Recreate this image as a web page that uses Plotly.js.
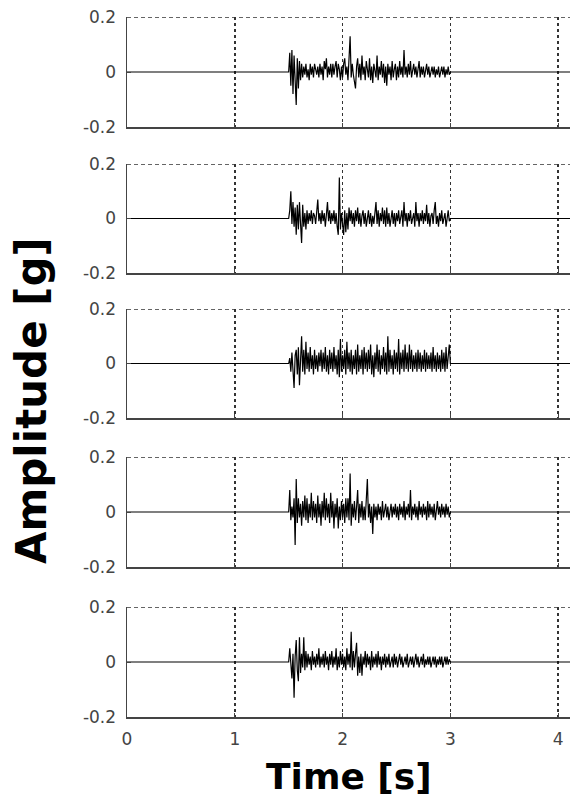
<!DOCTYPE html>
<html>
<head>
<meta charset="utf-8">
<script src="https://cdn.plot.ly/plotly-3.0.1.min.js"></script>
<style>html,body{margin:0;padding:0;background:#fff;}#chart{width:581px;height:804px;}</style>
</head>
<body>
<div id="chart"></div>
<script>
// Time axis [s]: zero before the event, samples every 0.01 s from 1.50 to 3.00, zero after
var time = [0,
1.50,1.51,1.52,1.53,1.54,1.55,1.56,1.57,1.58,1.59,
1.60,1.61,1.62,1.63,1.64,1.65,1.66,1.67,1.68,1.69,
1.70,1.71,1.72,1.73,1.74,1.75,1.76,1.77,1.78,1.79,
1.80,1.81,1.82,1.83,1.84,1.85,1.86,1.87,1.88,1.89,
1.90,1.91,1.92,1.93,1.94,1.95,1.96,1.97,1.98,1.99,
2.00,2.01,2.02,2.03,2.04,2.05,2.06,2.07,2.08,2.09,
2.10,2.11,2.12,2.13,2.14,2.15,2.16,2.17,2.18,2.19,
2.20,2.21,2.22,2.23,2.24,2.25,2.26,2.27,2.28,2.29,
2.30,2.31,2.32,2.33,2.34,2.35,2.36,2.37,2.38,2.39,
2.40,2.41,2.42,2.43,2.44,2.45,2.46,2.47,2.48,2.49,
2.50,2.51,2.52,2.53,2.54,2.55,2.56,2.57,2.58,2.59,
2.60,2.61,2.62,2.63,2.64,2.65,2.66,2.67,2.68,2.69,
2.70,2.71,2.72,2.73,2.74,2.75,2.76,2.77,2.78,2.79,
2.80,2.81,2.82,2.83,2.84,2.85,2.86,2.87,2.88,2.89,
2.90,2.91,2.92,2.93,2.94,2.95,2.96,2.97,2.98,2.99,
3.00, 4.2];

// Amplitude [g], one array per channel (top to bottom)
var channel1 = [0,
0,.07,-.05,.08,-.08,.06,-.04,-.12,.05,-.06,
.04,-.03,.03,-.02,.02,-.01,.03,-.02,.01,-.03,
.03,-.01,.02,-.02,.03,.01,-.01,.02,-.02,.03,
-.01,.02,-.03,.04,.01,.05,-.02,.02,-.01,.03,
-.02,.03,-.01,.02,.04,-.02,.03,.01,-.03,.02,
-.02,.03,.05,-.01,.02,-.03,.04,.13,-.02,.03,
-.01,-.04,-.06,.02,.05,-.02,.03,-.03,.06,-.01,
.02,-.03,.04,.01,-.02,.05,-.03,.02,-.04,.03,
.01,-.02,.06,-.03,.02,-.01,.04,-.02,.03,-.04,
.02,-.05,.03,-.01,.02,-.03,.04,-.02,.01,.03,
-.03,.02,-.02,.04,-.01,.02,-.02,.08,-.01,.02,
-.02,.03,-.01,.04,-.02,.01,.03,-.01,.02,-.02,
.01,.04,-.02,.02,-.01,.02,-.02,.01,.03,-.01,
.02,-.02,.01,.02,-.01,.02,-.02,.01,-.01,.02,
-.02,.01,.02,-.01,.02,-.02,.01,-.01,.02,-.01,
0, 0];

var channel2 = [0,
0,.03,.10,-.02,.06,-.03,.04,-.06,.05,-.04,
.06,-.02,-.09,.05,-.03,.02,-.04,.03,-.02,.02,
-.01,.03,-.02,.02,.01,-.02,.03,.07,-.01,.02,
-.02,.03,-.01,.02,-.03,.02,.06,-.01,.03,-.02,
.02,-.01,.03,-.02,.02,-.03,-.06,.15,-.04,.02,
-.02,-.06,.03,-.05,.02,-.04,.04,-.01,.03,-.02,
.02,-.03,.03,-.01,.04,-.02,.02,-.03,.01,.03,
-.02,.02,-.03,.01,.03,-.02,.02,-.03,.01,-.02,
.02,.06,-.02,.03,-.03,.02,-.01,.04,-.02,.03,
-.03,.04,-.02,.02,-.03,.01,.03,-.02,.02,-.03,
.02,-.01,.03,-.02,.01,.03,-.03,.06,-.01,.02,
-.03,.02,-.01,.03,-.02,.01,.02,-.03,.06,-.01,
.02,-.03,.02,-.01,.03,-.02,.02,-.01,.05,-.02,
.02,-.03,.01,.02,-.02,.03,.06,-.02,.01,-.03,
.02,-.01,.03,-.02,.01,.02,-.03,.01,.03,-.01,
0, 0];

var channel3 = [0,
0,.02,-.03,.04,-.05,-.09,.03,.05,-.04,.06,
-.08,.04,.10,-.03,.05,-.04,.08,-.02,.04,-.03,
.06,-.02,.03,-.04,.05,-.02,.03,-.03,.04,-.01,
.05,-.03,.04,-.02,.06,-.03,.03,-.04,.05,-.02,
.04,-.03,.06,-.02,.03,-.04,.05,-.05,.09,-.03,
.03,-.02,.05,-.04,.08,-.02,.04,-.03,.05,-.04,
.03,-.02,.05,-.04,.07,-.03,.03,-.02,.05,-.04,
.06,-.02,.04,-.03,.05,-.02,.07,-.04,.03,-.05,
.04,-.02,.07,-.03,.05,-.04,.03,-.02,.06,-.03,
.04,-.04,.10,-.03,.05,-.02,.03,-.04,.05,-.02,
.04,-.03,.09,-.04,.04,-.02,.05,-.03,.07,-.02,
.04,-.03,.07,-.02,.05,-.03,.03,-.02,.04,-.03,
.05,-.02,.04,-.03,.03,-.02,.05,-.03,.04,-.02,
.03,-.02,.04,-.03,.06,-.02,.03,-.03,.04,-.02,
.03,-.03,.05,-.02,.04,-.03,.06,-.02,.03,.07,
0, 0];

var channel4 = [0,
0,.08,-.03,.02,-.02,.05,-.12,.12,-.04,.05,
-.02,.03,-.05,.04,-.02,.06,-.03,.05,-.04,.03,
-.02,.07,-.03,.04,-.02,.03,-.04,.06,-.02,.03,
-.05,.04,-.02,.07,-.03,.05,-.02,.03,-.04,.07,
-.02,.04,-.06,.03,-.02,.05,-.06,.02,-.03,.04,
-.02,.03,-.04,.05,-.02,.05,-.03,.14,-.05,.03,
-.02,.04,-.03,.02,.08,-.04,.03,-.02,.04,-.03,
.02,-.03,.05,.12,-.02,.03,-.04,.02,-.08,.03,
-.02,.02,-.03,.03,-.01,.02,-.03,.04,-.02,.01,
.03,-.02,.02,-.03,.01,.03,-.02,.02,-.01,.03,
-.02,.02,-.03,.03,-.01,.02,-.02,.04,-.03,.02,
-.01,.03,-.02,.08,-.03,.02,-.01,.03,-.02,.02,
-.03,.04,-.01,.02,-.02,.03,-.01,.02,-.03,.04,
-.02,.03,-.01,.02,-.02,.03,-.03,.02,.04,-.01,
.02,-.02,.03,-.01,.02,-.02,.03,-.01,.02,-.02,
0, 0];

var channel5 = [0,
0,.05,-.02,-.06,.03,-.13,.02,.08,-.03,-.07,
.09,-.04,.03,-.02,.09,-.03,.04,-.02,.03,-.01,
.02,-.03,.04,-.01,.02,-.02,.03,-.01,.05,-.02,
.02,-.01,.03,-.02,.04,-.01,.02,-.03,.03,-.01,
.04,-.02,.02,-.01,.05,-.03,.02,-.02,.04,-.01,
.03,-.02,.02,-.03,.05,-.01,.03,-.02,.11,-.03,
.04,-.02,.03,.07,-.05,.02,-.04,.03,-.05,.02,
-.01,.04,-.02,.03,-.01,.02,-.03,.04,-.02,.02,
-.01,.03,-.02,.04,-.01,.02,-.03,.02,-.01,.03,
-.02,.02,-.01,.03,-.02,.01,.02,-.02,.03,-.01,
.02,-.02,.01,.03,-.01,.02,-.02,.01,.02,-.01,
.03,-.02,.01,.02,-.01,.02,-.02,.01,.03,-.01,
.02,-.02,.01,.02,-.01,.03,-.02,.01,-.01,.02,
-.01,.02,-.02,.01,.02,-.01,.02,-.02,.01,-.01,
.02,-.01,.02,-.02,.01,.02,-.01,.02,-.01,.01,
0, 0];

var channels = [channel1, channel2, channel3, channel4, channel5];
var xTickVals = [0, 1, 2, 3, 4];
var xTickText = ['0', '1', '2', '3', '4'];
var yTickVals = [-0.2, 0, 0.2];
var yTickText = ['-0.2', '0', '0.2'];

// panel pixel extents (top, bottom) in an 804 px tall figure
var H = 804;
var panels = [[17,127],[164,273],[309,418],[457,567],[607,717]];

var traces = [];
var shapes = [];
var layout = {
  width: 581, height: 804,
  margin: {l: 127, r: 11, t: 0, b: 0},
  paper_bgcolor: '#fff', plot_bgcolor: '#fff',
  showlegend: false,
  font: {family: 'DejaVu Sans', size: 17, color: '#444'},
  annotations: [
    {text: '<b>Time [s]</b>', xref: 'paper', yref: 'paper', x: 0.5, y: 1 - 776/H,
     xanchor: 'center', yanchor: 'middle', showarrow: false,
     font: {family: 'DejaVu Sans', size: 36, color: '#000'}},
    {text: '<b>Amplitude [g]</b>', xref: 'paper', yref: 'paper',
     x: -(127 - 31) / (581 - 138), y: 1 - 401/H, textangle: -90,
     xanchor: 'center', yanchor: 'middle', showarrow: false,
     font: {family: 'DejaVu Sans', size: 42, color: '#000'}}
  ]
};

channels.forEach(function (ch, i) {
  var n = i + 1;
  var xa = n === 1 ? 'x' : 'x' + n;
  var ya = n === 1 ? 'y' : 'y' + n;
  traces.push({
    x: time, y: ch, type: 'scatter', mode: 'lines',
    xaxis: xa, yaxis: ya,
    line: {color: '#000', width: 1.2},
    hoverinfo: 'skip'
  });
  var last = n === channels.length;
  layout['xaxis' + (n === 1 ? '' : n)] = {
    range: [0, 4.11], anchor: ya,
    tickvals: xTickVals, ticktext: xTickText,
    showticklabels: last,
    ticks: 'inside', ticklen: 4, tickcolor: '#444',
    showgrid: true, gridcolor: '#333', gridwidth: 1.5, griddash: '3px,3px',
    showline: true, linecolor: '#444', linewidth: 1.5, mirror: false,
    zeroline: false, fixedrange: true,
    tickfont: {family: 'DejaVu Sans', size: 17, color: '#444'},
    ticklabelstandoff: 6
  };
  var p = panels[i];
  layout['yaxis' + (n === 1 ? '' : n)] = {
    range: [-0.2, 0.2], anchor: xa,
    domain: [1 - p[1] / H, 1 - p[0] / H],
    tickvals: yTickVals, ticktext: yTickText,
    ticks: 'inside', ticklen: 4, tickcolor: '#444',
    showgrid: false,
    showline: true, linecolor: '#444', linewidth: 1.5,
    zeroline: false, fixedrange: true,
    tickfont: {family: 'DejaVu Sans', size: 17, color: '#444'},
    ticklabelstandoff: 6
  };
  // dotted top grid line at y = 0.2
  shapes.push({
    type: 'line', xref: xa + ' domain', yref: ya,
    x0: 0, x1: 1, y0: yTickVals[2], y1: yTickVals[2],
    line: {color: '#333', width: 1.5, dash: '4px,3px'}
  });
});
layout.shapes = shapes;

Plotly.newPlot('chart', traces, layout, {displayModeBar: false, staticPlot: true});
</script>
</body>
</html>
